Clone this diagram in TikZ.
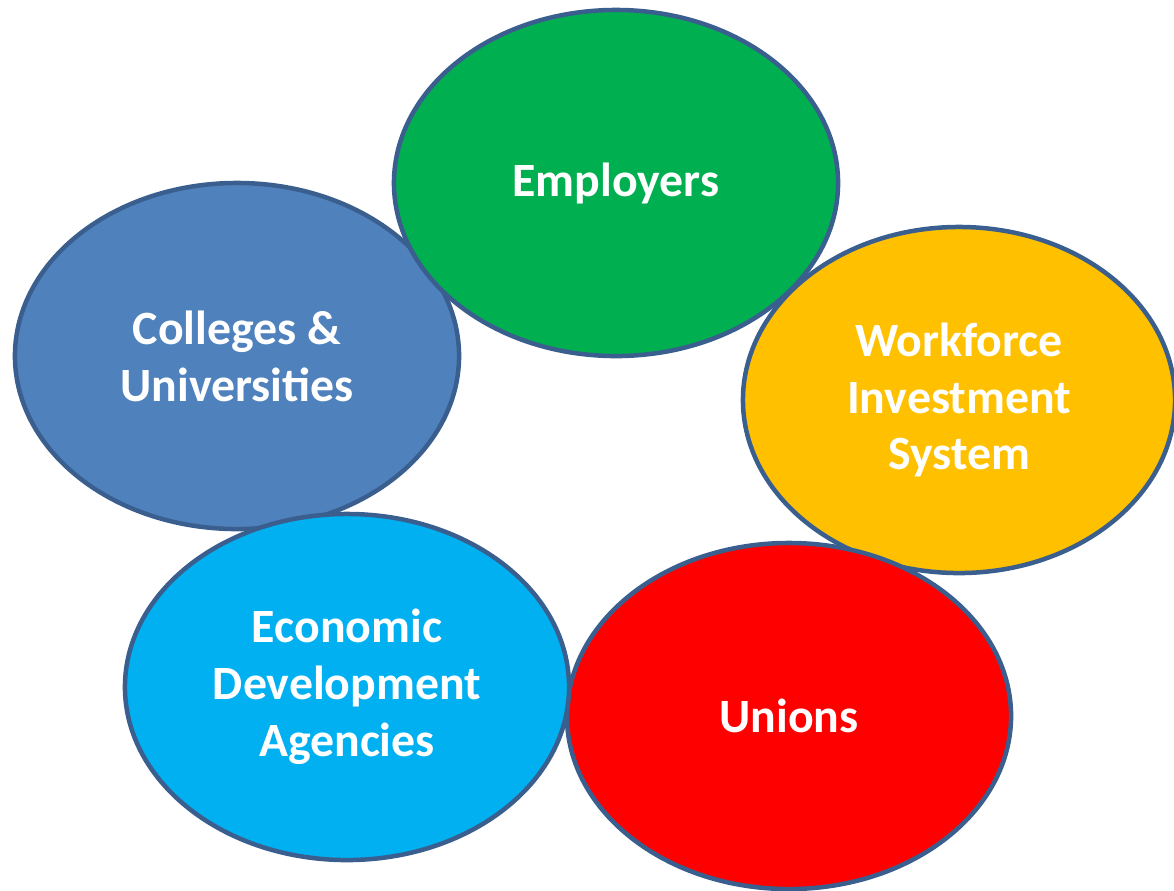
\documentclass[tikz,border=0pt]{standalone}
\usepackage{fontspec}
\setmainfont{Carlito}
\usepackage{tikz}
\usetikzlibrary{shapes.geometric}
\definecolor{rim}{HTML}{3A5F8F}
\definecolor{cgreen}{HTML}{00B050}
\definecolor{cyellow}{HTML}{FFC000}
\definecolor{cred}{HTML}{FF0000}
\definecolor{ccyan}{HTML}{00B0F0}
\definecolor{cblue}{HTML}{4F81BD}
\tikzset{party/.style={ellipse, draw=rim, line width=3.2pt, minimum width=11.1cm,
    minimum height=8.65cm, inner sep=0pt, align=center, text=white,
    font=\fontsize{34pt}{40.5pt}\selectfont\bfseries}}

\begin{document}
\begin{tikzpicture}[x=0.025cm, y=-0.025cm]
	\useasboundingbox (0,0) rectangle (1174,890);
	\node[party, fill=cblue] (colleges) at (237,356) {Colleges \&\\Universities};
	\node[party, fill=cgreen] (employers) at (616,183) {Employers};
	\node[party, fill=cyellow, minimum width=10.8cm] (workforce) at (959,400) {Workforce\\Investment\\System};
	\node[party, fill=cred] (unions) at (789,716) {Unions};
	\node[party, fill=ccyan] (econ) at (347,687) {Economic\\Development\\Agencies};
\end{tikzpicture}
\end{document}
